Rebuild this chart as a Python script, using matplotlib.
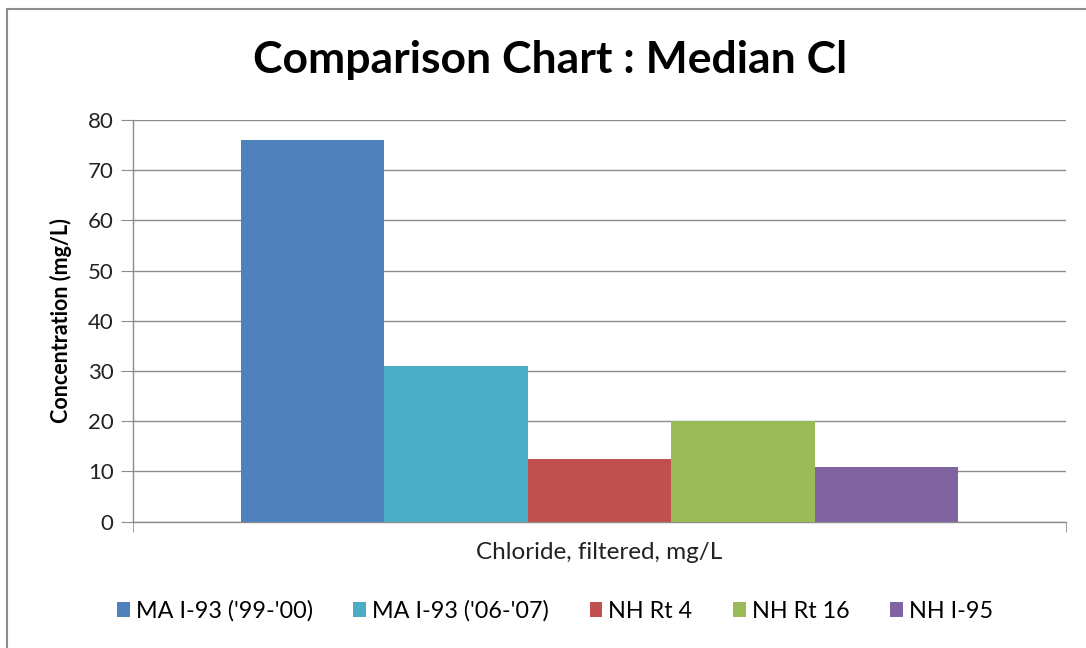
import matplotlib
matplotlib.use("Agg")
import matplotlib.pyplot as plt
from matplotlib.patches import Rectangle

plt.rcParams["font.family"] = ["Lato", "DejaVu Sans"]

category = "Chloride, filtered, mg/L"
series = ["MA I-93 ('99-'00)", "MA I-93 ('06-'07)", "NH Rt 4", "NH Rt 16", "NH I-95"]
values = [76, 31, 12.4, 20, 10.8]
colors = ["#4F81BD", "#4BACC6", "#C0504D", "#9BBB59", "#8064A2"]
yticks = [0, 10, 20, 30, 40, 50, 60, 70, 80]

W, H = 1086, 648
fig = plt.figure(figsize=(W / 100, H / 100), dpi=100)
# chart-area frame (Excel style), cropped at right/bottom
fig.patches.append(Rectangle((7 / W, -0.1), 1.2, (H - 9) / H + 0.1, transform=fig.transFigure,
                             fill=False, edgecolor="#8c8c8c", lw=1.5))

ax = fig.add_axes([133 / W, (H - 521.5) / H, (1066 - 133) / W, (521.5 - 120) / H])

n = len(series)
group = 0.7685
bw = group / n
handles = []
for i, (name, v, c) in enumerate(zip(series, values, colors)):
    x = -group / 2 + bw * (i + 0.5)
    handles.append(ax.bar(x, v, bw, color=c, label=name, zorder=3))

ax.set_xlim(-0.5, 0.5)
ax.set_ylim(0, 80)
ax.set_yticks(yticks)
ax.yaxis.grid(True, color="#8c8c8c", lw=1.0, zorder=0)
for s in ["top", "right"]:
    ax.spines[s].set_visible(False)
for s in ["left", "bottom"]:
    ax.spines[s].set_color("#8c8c8c")
    ax.spines[s].set_linewidth(1.0)
ax.tick_params(axis="y", direction="out", length=9, color="#8c8c8c", labelsize=16,
               pad=5, labelcolor="#222222")
ax.set_xticks([0])
ax.set_xticklabels([category])
ax.set_xticks([-0.5, 0.5], minor=True)
ax.tick_params(axis="x", which="major", length=0, labelsize=17.5, pad=15, labelcolor="#222222")
ax.tick_params(axis="x", which="minor", direction="out", length=7, color="#8c8c8c")

ax.set_ylabel("Concentration (mg/L)", fontsize=15.5, fontweight="bold", labelpad=11)
fig.text(550 / W, 1 - 60 / H, "Comparison Chart : Median Cl", fontsize=32,
         fontweight="bold", ha="center", va="center")

fig.legend(handles=handles, loc="center", bbox_to_anchor=(555 / W, 1 - 611 / H), ncol=5,
           frameon=False, fontsize=16.8, handlelength=0.55, handleheight=0.55,
           handletextpad=0.25, columnspacing=1.75)

fig.savefig("out.png", dpi=100)
